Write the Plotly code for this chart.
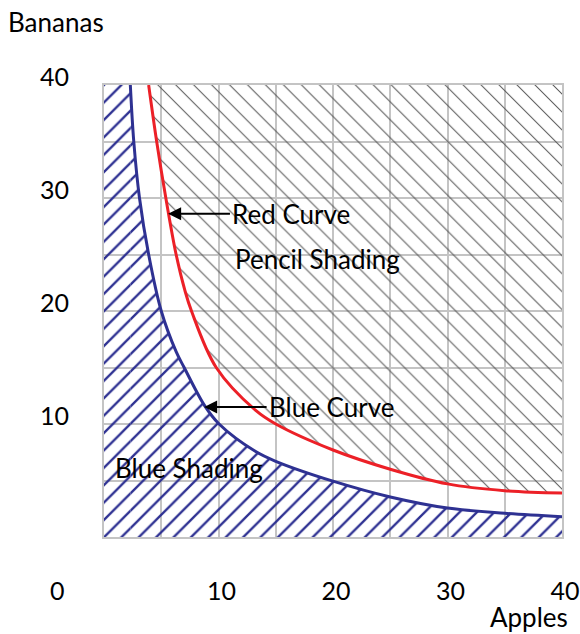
import plotly.graph_objects as go

# ---- data ----
red_x = [3.9, 4.6, 5.4, 6.3, 7.07, 7.64, 9.8, 13.25, 15.0, 20.0, 25.0, 30.0, 35.0, 40.0]
red_y = [40.0, 35.0, 30.0, 25.0, 21.8, 20.0, 15.0, 11.2, 10.0, 7.7, 6.0, 4.7, 4.1, 3.9]

blue_x = [2.3, 2.6, 3.1, 3.9, 5.0, 6.3, 7.0, 8.8, 10.05, 13.25, 15.0, 20.0, 25.0, 30.0, 35.0, 40.0]
blue_y = [40.0, 35.0, 30.0, 25.0, 20.0, 16.4, 15.0, 11.6, 10.0, 7.56, 6.7, 4.94, 3.54, 2.56, 2.1, 1.8]

x_tickvals = [10, 20, 30, 40]
x_ticktext = ["10", "20", "30", "40"]
y_tickvals = [10, 20, 30, 40]
y_ticktext = ["10", "20", "30", "40"]
axis_range = [0, 40]
grid_step = 5

RED = "#ec2027"
BLUE = "#2e3192"
GRID = "#c4c4c4"
FONT = "Lato"
TXT_SIZE = 26
TICK_SIZE = 25

fig = go.Figure()

# top boundary for the pencil shading (above the red curve)
fig.add_trace(go.Scatter(
    x=[red_x[0], axis_range[1]], y=[axis_range[1], axis_range[1]],
    mode="lines", line=dict(width=0), hoverinfo="skip", showlegend=False))

# red curve with pencil shading above it
fig.add_trace(go.Scatter(
    x=red_x, y=red_y, mode="lines",
    line=dict(color=RED, width=3, shape="spline", smoothing=1.0),
    fill="tonexty", fillcolor="rgba(0,0,0,0)",
    fillpattern=dict(shape="\\", fgcolor="#555555", bgcolor="rgba(0,0,0,0)",
                     fgopacity=1, size=12.7, solidity=0.08),
    hoverinfo="skip", showlegend=False))

# blue shading left of the blue curve's top end
blue_pattern = dict(shape="/", fgcolor=BLUE, bgcolor="rgba(0,0,0,0)",
                    fgopacity=1, size=12.3, solidity=0.19)
fig.add_trace(go.Scatter(
    x=[axis_range[0], blue_x[0]], y=[axis_range[1], axis_range[1]],
    mode="lines", line=dict(width=0),
    fill="tozeroy", fillcolor="rgba(0,0,0,0)", fillpattern=blue_pattern,
    hoverinfo="skip", showlegend=False))

# blue curve with blue shading below it
fig.add_trace(go.Scatter(
    x=blue_x, y=blue_y, mode="lines",
    line=dict(color=BLUE, width=3, shape="spline", smoothing=1.0),
    fill="tozeroy", fillcolor="rgba(0,0,0,0)", fillpattern=blue_pattern,
    hoverinfo="skip", showlegend=False))

txt = dict(family=FONT, size=TXT_SIZE, color="black")

W, H = 580, 634
L, R, T, B = 104, 18, 85, 97
pw, ph = W - L - R, H - T - B

def px_to_paper(px, py):
    return (px - L) / pw, (H - B - py) / ph

bx, by = px_to_paper(56, 22)
apx, apy = px_to_paper(529, 617)
ox, oy = px_to_paper(57, 590)

annotations = [
    dict(x=5.6, y=28.6, ax=11.0, ay=28.6, xref="x", yref="y",
         axref="x", ayref="y", text="Red Curve", xanchor="left",
         showarrow=True, arrowhead=2, arrowsize=1.3, arrowwidth=2,
         arrowcolor="black", font=txt, standoff=0),
    dict(x=8.75, y=11.5, ax=14.2, ay=11.5, xref="x", yref="y",
         axref="x", ayref="y", text="Blue Curve", xanchor="left",
         showarrow=True, arrowhead=2, arrowsize=1.3, arrowwidth=2,
         arrowcolor="black", font=txt, standoff=0),
    dict(x=11.3, y=24.6, xref="x", yref="y", text="Pencil Shading",
         xanchor="left", showarrow=False, font=txt),
    dict(x=0.8, y=6.1, xref="x", yref="y", text="Blue Shading",
         xanchor="left", showarrow=False, font=txt),
    dict(x=bx, y=by, xref="paper", yref="paper", text="Bananas",
         xanchor="center", yanchor="middle", showarrow=False, font=txt),
    dict(x=apx, y=apy, xref="paper", yref="paper", text="Apples",
         xanchor="center", yanchor="middle", showarrow=False, font=txt),
    dict(x=ox, y=oy, xref="paper", yref="paper", text="0",
         xanchor="center", yanchor="middle", showarrow=False,
         font=dict(family=FONT, size=TICK_SIZE, color="black")),
]

fig.update_layout(
    width=W, height=H,
    margin=dict(l=L, r=R, t=T, b=B),
    paper_bgcolor="white", plot_bgcolor="white",
    font=dict(family=FONT, size=TXT_SIZE, color="black"),
    annotations=annotations,
    showlegend=False,
)

axis_common = dict(
    range=axis_range,
    showgrid=True, gridcolor=GRID, gridwidth=2,
    minor=dict(dtick=grid_step, showgrid=True, gridcolor=GRID, gridwidth=2),
    showline=True, linecolor=GRID, linewidth=2, mirror=True,
    zeroline=False, ticks="", automargin=False,
    tickfont=dict(family=FONT, size=TICK_SIZE, color="black"),
    fixedrange=True,
)
fig.update_xaxes(tickvals=x_tickvals, ticktext=x_ticktext,
                 ticklabelstandoff=31, ticklabelshift=3, **axis_common)
fig.update_yaxes(tickvals=y_tickvals, ticktext=y_ticktext,
                 ticklabelstandoff=28, ticklabelshift=-8, **axis_common)

fig.write_html("out.html", config={"displayModeBar": False},
               post_script="document.body.style.margin='0';")
